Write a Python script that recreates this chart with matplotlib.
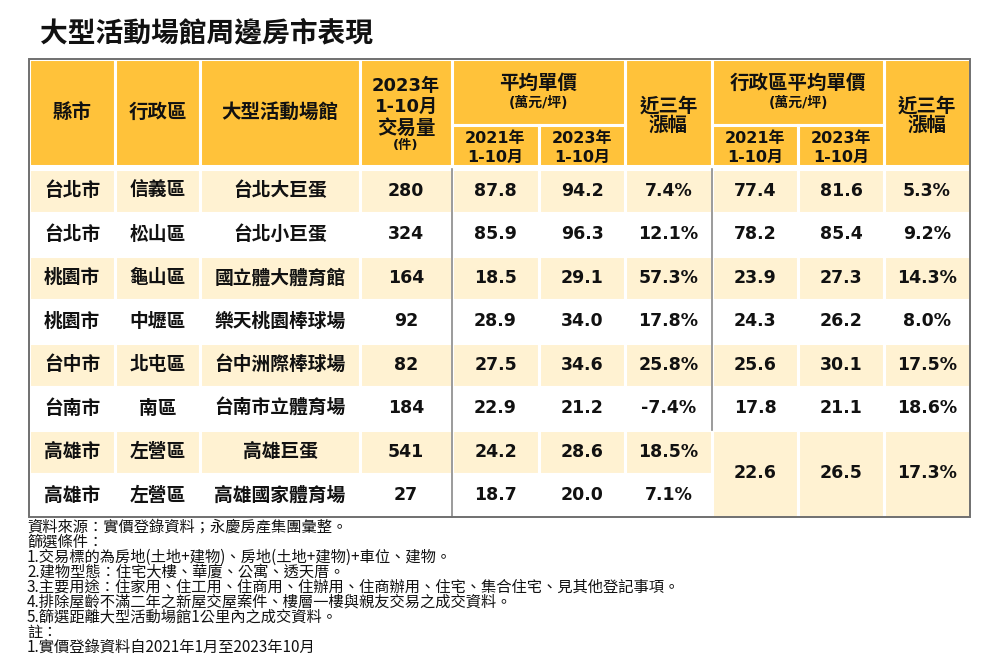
import matplotlib
matplotlib.use('Agg')
import matplotlib.pyplot as plt
from matplotlib.patches import Rectangle

plt.rcParams['font.family'] = ['DejaVu Sans', 'Noto Sans CJK TC']

# table data
cities = ['台北市', '台北市', '桃園市', '桃園市', '台中市', '台南市', '高雄市', '高雄市']
districts = ['信義區', '松山區', '龜山區', '中壢區', '北屯區', '南區', '左營區', '左營區']
venues = ['台北大巨蛋', '台北小巨蛋', '國立體大體育館', '樂天桃園棒球場',
          '台中洲際棒球場', '台南市立體育場', '高雄巨蛋', '高雄國家體育場']
volume = [280, 324, 164, 92, 82, 184, 541, 27]
price_2021 = [87.8, 85.9, 18.5, 28.9, 27.5, 22.9, 24.2, 18.7]
price_2023 = [94.2, 96.3, 29.1, 34.0, 34.6, 21.2, 28.6, 20.0]
growth = [7.4, 12.1, 57.3, 17.8, 25.8, -7.4, 18.5, 7.1]
# district averages: the last value covers both 高雄 rows
dist_2021 = [77.4, 78.2, 23.9, 24.3, 25.6, 17.8, 22.6]
dist_2023 = [81.6, 85.4, 27.3, 26.2, 30.1, 21.1, 26.5]
dist_growth = [5.3, 9.2, 14.3, 8.0, 17.5, 18.6, 17.3]

title = '大型活動場館周邊房市表現'
notes = [
    '資料來源：實價登錄資料；永慶房產集團彙整。',
    '篩選條件：',
    '1.交易標的為房地(土地+建物)、房地(土地+建物)+車位、建物。',
    '2.建物型態：住宅大樓、華廈、公寓、透天厝。',
    '3.主要用途：住家用、住工用、住商用、住辦用、住商辦用、住宅、集合住宅、見其他登記事項。',
    '4.排除屋齡不滿二年之新屋交屋案件、樓層一樓與親友交易之成交資料。',
    '5.篩選距離大型活動場館1公里內之成交資料。',
    '註：',
    '1.實價登錄資料自2021年1月至2023年10月',
]

HEAD = '#ffc23a'
CREAM = '#fff2d2'
TXT = '#111111'

fig = plt.figure(figsize=(10, 6.67), dpi=100)
ax = fig.add_axes([0, 0, 1, 1])
ax.set_xlim(0, 1000)
ax.set_ylim(667, 0)
ax.axis('off')

xs = [29, 115, 200, 360, 452, 539, 625, 712, 798, 884, 970]
top, mid, hbot = 59, 125, 166
y0, rh = 169, 43.5
n = len(cities)
bot = y0 + rh * n


def cell(x1, x2, y1, y2, color):
    ax.add_patch(Rectangle((x1, y1), x2 - x1, y2 - y1, facecolor=color,
                           edgecolor='white', linewidth=2.2, zorder=1))


def put(x, y, s, size=12.5, weight='bold'):
    ax.text(x, y, s, fontsize=size, fontweight=weight, color=TXT,
            ha='center', va='center', zorder=3)


def cx(i, j=None):
    j = i if j is None else j
    return (xs[i] + xs[j + 1]) / 2


ax.text(40, 33, title, fontsize=20, fontweight='bold', color=TXT,
        ha='left', va='center', family='Noto Sans CJK TC')

# header cells
ax.add_patch(Rectangle((xs[0], top), xs[-1] - xs[0], y0 - top,
                       facecolor='white', edgecolor='none', zorder=0))
for i in [0, 1, 2, 3, 6, 9]:
    cell(xs[i], xs[i + 1], top, hbot, HEAD)
for i in [4, 7]:
    cell(xs[i], xs[i + 2], top, mid, HEAD)
    cell(xs[i], xs[i + 1], mid, hbot, HEAD)
    cell(xs[i + 1], xs[i + 2], mid, hbot, HEAD)

hc = (top + hbot) / 2
put(cx(0), hc, '縣市', 14)
put(cx(1), hc, '行政區', 14)
put(cx(2), hc, '大型活動場館', 14)
put(cx(3), 86, '2023年', 13)
put(cx(3), 107, '1-10月', 13)
put(cx(3), 128, '交易量', 14)
put(cx(3), 146, '(件)', 9.5)
for i, lab in [(4, '平均單價'), (7, '行政區平均單價')]:
    put(cx(i, i + 1), 83, lab, 14)
    put(cx(i, i + 1), 103, '(萬元/坪)', 10)
    for k, yr in enumerate(['2021年', '2023年']):
        put(cx(i + k), 138, yr, 11.5)
        put(cx(i + k), 157, '1-10月', 11.5)
for i in [6, 9]:
    put(cx(i), 106, '近三年', 14)
    put(cx(i), 125, '漲幅', 14)

# data rows
for r in range(n):
    ya, yb = y0 + rh * r, y0 + rh * (r + 1)
    bg = CREAM if r % 2 == 0 else 'white'
    for c in range(7):
        cell(xs[c], xs[c + 1], ya, yb, bg)
    yc = (ya + yb) / 2
    put(cx(0), yc, cities[r], 13.5)
    put(cx(1), yc, districts[r], 13.5)
    put(cx(2), yc, venues[r], 13.5)
    put(cx(3), yc, str(volume[r]))
    put(cx(4), yc, f'{price_2021[r]:.1f}')
    put(cx(5), yc, f'{price_2023[r]:.1f}')
    put(cx(6), yc, f'{growth[r]:.1f}%')

for r in range(len(dist_2021)):
    ya = y0 + rh * r
    yb = bot if r == len(dist_2021) - 1 else ya + rh
    bg = CREAM if r % 2 == 0 else 'white'
    for c in range(7, 10):
        cell(xs[c], xs[c + 1], ya, yb, bg)
    yc = (ya + yb) / 2
    put(cx(7), yc, f'{dist_2021[r]:.1f}')
    put(cx(8), yc, f'{dist_2023[r]:.1f}')
    put(cx(9), yc, f'{dist_growth[r]:.1f}%')

# grey separators and outer frame
ax.plot([xs[4], xs[4]], [y0, bot], color='#8a8a8a', lw=1.2, zorder=2)
ax.plot([xs[7], xs[7]], [y0, bot - rh * 2], color='#8a8a8a', lw=1.2, zorder=2)
ax.add_patch(Rectangle((xs[0], top), xs[-1] - xs[0], bot - top, facecolor='none',
                       edgecolor='#707070', linewidth=1.4, zorder=4))

# notes
for k, s in enumerate(notes):
    ax.text(27, 527 + 15 * k, s, fontsize=11, color=TXT, ha='left', va='center',
            family='Noto Sans CJK TC')

fig.savefig('out.png', dpi=100)
